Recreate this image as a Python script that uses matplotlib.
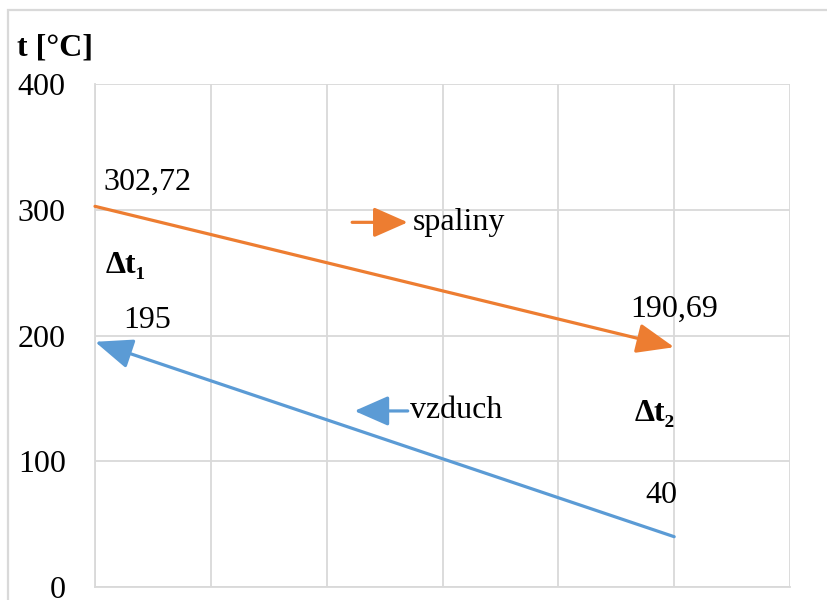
import matplotlib.pyplot as plt
from matplotlib.patches import Rectangle

plt.rcParams['font.family'] = ['Liberation Serif', 'DejaVu Serif']

# temperature profile of the exchanger (x = position along the exchanger)
x_pos = [0, 5]
t_spaliny = [302.72, 190.69]   # flue gas, flows left -> right
t_vzduch = [195, 40]           # air, flows right -> left
lbl_spaliny = ['302,72', '190,69']
lbl_vzduch = ['195', '40']

orange = '#ED7D31'
blue = '#5B9BD5'
grid_c = '#D9D9D9'
fs = 23

fig = plt.figure(figsize=(8.27, 6.0), dpi=100)
# thin grey frame around the chart
fig.patches.append(Rectangle((8/827, -0.1), 1.0, (600-10)/600 + 0.1, transform=fig.transFigure,
                             fill=False, ec=grid_c, lw=1.6))
ax = fig.add_axes([95/827, 1-587/600, (790-95)/827, (587-84)/600])

ax.set_xlim(0, 6)
ax.set_ylim(0, 400)
ax.set_xticks(range(0, 7))
ax.set_yticks(range(0, 401, 100))
ax.grid(True, color=grid_c, lw=1.3)
ax.tick_params(length=0, labelsize=fs, pad=21)
ax.set_xticklabels([])
for s in ax.spines.values():
    s.set_color(grid_c)
    s.set_linewidth(1.3)
ax.spines['top'].set_visible(False)
ax.spines['right'].set_visible(False)

head = dict(lw=2.3, mutation_scale=42, shrinkA=0, shrinkB=0)

# lines with arrowheads showing flow direction
ax.annotate('', xy=(x_pos[1], t_spaliny[1]), xytext=(x_pos[0], t_spaliny[0]),
            arrowprops=dict(arrowstyle='-|>,head_length=0.55,head_width=0.22', color=orange, **head))
ax.annotate('', xy=(x_pos[0], t_vzduch[0]), xytext=(x_pos[1], t_vzduch[1]),
            arrowprops=dict(arrowstyle='-|>,head_length=0.55,head_width=0.22', color=blue, **head))

# value labels
ax.text(x_pos[0] + 0.07, t_spaliny[0] + 19, lbl_spaliny[0], fontsize=fs, va='center')
ax.text(x_pos[1] - 0.38, t_spaliny[1] + 30, lbl_spaliny[1], fontsize=fs, va='center')
ax.text(x_pos[0] + 0.24, t_vzduch[0] + 17, lbl_vzduch[0], fontsize=fs, va='center')
ax.text(x_pos[1] - 0.25, t_vzduch[1] + 33, lbl_vzduch[1], fontsize=fs, va='center')

# delta t labels
ax.text(0.09, 256, 'Δt₁', fontsize=fs, fontweight='bold', va='center')
ax.text(4.66, 138, 'Δt₂', fontsize=fs, fontweight='bold', va='center')

# legend-like arrows
ax.annotate('', xy=(2.7, 290), xytext=(2.22, 290),
            arrowprops=dict(arrowstyle='-|>,head_length=0.5,head_width=0.22', color=orange, **head))
ax.text(2.74, 290, 'spaliny', fontsize=fs, va='center')
ax.annotate('', xy=(2.24, 140), xytext=(2.7, 140),
            arrowprops=dict(arrowstyle='-|>,head_length=0.5,head_width=0.22', color=blue, **head))
ax.text(2.72, 140, 'vzduch', fontsize=fs, va='center')

fig.text(17/827, 1-48/600, 't [°C]', fontsize=fs, fontweight='bold', va='center')

fig.savefig('out.png', dpi=100)
